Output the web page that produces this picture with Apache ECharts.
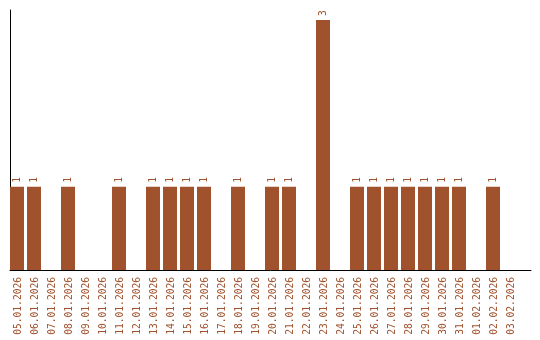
<!DOCTYPE html>
<html><head><meta charset="utf-8">
<script src="https://cdn.jsdelivr.net/npm/echarts@6/dist/echarts.min.js"></script>
<style>html,body{margin:0;padding:0;background:#fff}#c{width:540px;height:340px}</style>
</head><body><div id="c"></div>
<script>
const categories = ["05.01.2026","06.01.2026","07.01.2026","08.01.2026","09.01.2026","10.01.2026","11.01.2026","12.01.2026","13.01.2026","14.01.2026","15.01.2026","16.01.2026","17.01.2026","18.01.2026","19.01.2026","20.01.2026","21.01.2026","22.01.2026","23.01.2026","24.01.2026","25.01.2026","26.01.2026","27.01.2026","28.01.2026","29.01.2026","30.01.2026","31.01.2026","01.02.2026","02.02.2026","03.02.2026"];
const counts = [1,1,0,1,0,0,1,0,1,1,1,1,0,1,0,1,1,0,3,0,1,1,1,1,1,1,1,0,1,0];
const spacer = counts.map(() => 0);
const brown = '#A0522D';
const chart = echarts.init(document.getElementById('c'), null, {renderer: 'canvas'});
chart.setOption({
  animation: false,
  grid: [
    {left: 10, top: 10, width: 510, height: 260},
    {left: 10, top: 10, width: 521, height: 260}
  ],
  xAxis: [
    {type: 'category', gridIndex: 0, data: categories,
     axisLine: {show: false}, axisTick: {show: false},
     axisLabel: {rotate: 90, interval: 0, color: brown, fontFamily: 'DejaVu Sans Mono', fontSize: 9.6, margin: 7}},
    {type: 'value', gridIndex: 1, min: 0, max: 1,
     axisLine: {show: true, lineStyle: {color: '#000', width: 1}}, axisTick: {show: false},
     axisLabel: {show: false}, splitLine: {show: false}}
  ],
  yAxis: [
    {type: 'value', gridIndex: 0, min: 0, max: 3.12, show: false, splitLine: {show: false}},
    {type: 'value', gridIndex: 1, min: 0, max: 1,
     axisLine: {show: true, lineStyle: {color: '#000', width: 1}}, axisTick: {show: false},
     axisLabel: {show: false}, splitLine: {show: false}}
  ],
  series: [
    {type: 'bar', xAxisIndex: 0, yAxisIndex: 0, data: counts, barWidth: 14, barGap: 0,
     itemStyle: {color: brown},
     label: {show: true, position: 'top', rotate: 90, align: 'left', verticalAlign: 'middle', distance: 4,
       color: brown, fontFamily: 'DejaVu Sans Mono', fontSize: 9.6,
       formatter: p => p.value > 0 ? String(p.value) : ''}},
    {type: 'bar', xAxisIndex: 0, yAxisIndex: 0, data: spacer, barWidth: 3, barGap: 0,
     itemStyle: {color: 'rgba(0,0,0,0)'}, silent: true}
  ]
});
</script></body></html>
